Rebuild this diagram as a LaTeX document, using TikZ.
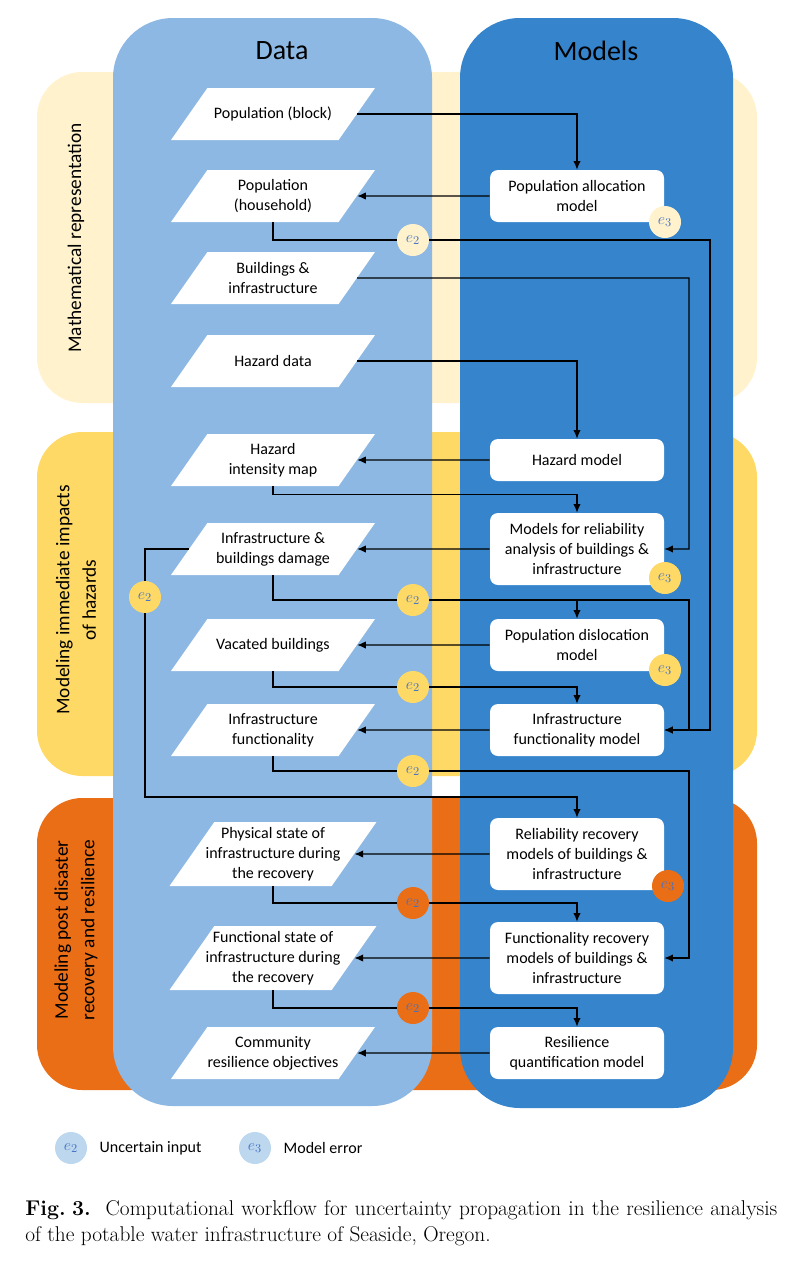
\documentclass[tikz,border=0pt]{standalone}
\usepackage{fontspec}
\setsansfont{Carlito}
\usetikzlibrary{shapes.geometric,arrows.meta}

\definecolor{bandmath}{RGB}{255,242,204}
\definecolor{bandimpact}{RGB}{255,217,102}
\definecolor{bandrecov}{RGB}{234,110,22}
\definecolor{datacol}{RGB}{141,184,227}
\definecolor{modelcol}{RGB}{53,132,204}
\definecolor{keyblue}{RGB}{189,215,238}
\definecolor{errtext}{RGB}{68,114,196}

\begin{document}
\begin{tikzpicture}
        [
            x = 0.75pt, y = -0.75pt,
            every node/.style = {font=\sffamily\fontsize{12}{15}\selectfont},
            datum/.style      = {shape=trapezium, trapezium left angle=55, trapezium right angle=125,
                                 trapezium stretches body, fill=white, minimum width=153pt,
                                 inner xsep=-12pt, inner ysep=0pt,
                                 execute at begin node={\begin{minipage}[c][#1][c]{112pt}\centering},
                                 execute at end node={\end{minipage}}},
            datum/.default    = 39pt,
            model/.style      = {shape=rectangle, rounded corners=6pt, fill=white, align=center,
                                 minimum width=130.5pt, minimum height=39pt},
            tallbox/.style    = {minimum height=54pt},
            flow/.style       = {draw, line width=0.9pt, -{Latex[length=6.5pt,width=5.5pt]}},
            err/.style        = {shape=circle, minimum size=24pt, inner sep=0pt, text=errtext,
                                 font=\fontsize{13}{13}\selectfont},
            bandlabel/.style  = {rotate=90, align=center, font=\sffamily\fontsize{14.5}{20}\selectfont},
            header/.style     = {font=\sffamily\fontsize{21}{25}\selectfont},
            caption/.style    = {font=\rmfamily\fontsize{16}{19.5}\selectfont, text width=564pt,
                                 align=justify, inner sep=0pt},
        ]
        \useasboundingbox (0,0) rectangle (797,1264);

        % bands and columns
        \fill [bandmath, rounded corners=34pt] (37,72) rectangle (757,403);
        \fill [bandimpact, rounded corners=34pt] (37,432) rectangle (757,776);
        \fill [bandrecov, rounded corners=34pt] (37,798) rectangle (757,1090);
        \fill [datacol, rounded corners=45pt] (113,18) rectangle (432,1106);
        \fill [modelcol, rounded corners=45pt] (460,18) rectangle (733,1108);

        \node [header] (datahead) at (282,51) {Data};
        \node [header] (modelhead) at (596,51) {Models};
        \node [bandlabel] (mathlbl) at (76,238) {Mathematical representation};
        \node [bandlabel] (implbl) at (76,600) {Modeling immediate impacts\\of hazards};
        \node [bandlabel] (reclbl) at (76,930) {Modeling post disaster\\recovery and resilience};

        % data
        \node [datum] (popb) at (273,114) {Population (block)};
        \node [datum] (poph) at (273,196) {Population\\(household)};
        \node [datum] (bldg) at (273,278) {Buildings \&\\infrastructure};
        \node [datum] (hzd) at (273,361) {Hazard data};
        \node [datum] (him) at (273,460) {Hazard\\intensity map};
        \node [datum] (dmg) at (273,549) {Infrastructure \&\\buildings damage};
        \node [datum] (vac) at (273,645) {Vacated buildings};
        \node [datum] (inf) at (273,730) {Infrastructure\\functionality};
        \node [datum=48pt] (phy) at (273,854) {Physical state of\\infrastructure during\\the recovery};
        \node [datum=48pt] (fun) at (273,958) {Functional state of\\infrastructure during\\the recovery};
        \node [datum] (com) at (273,1053) {Community\\resilience objectives};

        % models
        \node [model] (pam) at (577,196) {Population allocation\\model};
        \node [model, minimum height=31.5pt] (hzm) at (577,460) {Hazard model};
        \node [model, tallbox] (rel) at (577,549) {Models for reliability\\analysis of buildings \&\\infrastructure};
        \node [model] (pdm) at (577,645) {Population dislocation\\model};
        \node [model] (ifm) at (577,730) {Infrastructure\\functionality model};
        \node [model, tallbox] (rrm) at (577,854) {Reliability recovery\\models of buildings \&\\infrastructure};
        \node [model, tallbox] (frm) at (577,958) {Functionality recovery\\models of buildings \&\\infrastructure};
        \node [model] (rqm) at (577,1053) {Resilience\\quantification model};

        % junctions of the connectors
        \coordinate (busA) at (710,240);
        \coordinate (busB) at (689,278);
        \coordinate (loop) at (145,797);
        \coordinate (u1) at (413,240);
        \coordinate (u2) at (413,600);
        \coordinate (u3) at (145,597);
        \coordinate (u4) at (413,687);
        \coordinate (u5) at (413,771);
        \coordinate (u6) at (413,903);
        \coordinate (u7) at (413,1008);

        \draw [flow] (popb.0) -| (pam.north);
        \draw [flow] (pam.west) -- (poph.0);
        \draw [flow] (poph.south) |- (u1) -- (busA) |- (ifm.east);
        \draw [flow] (bldg.0) -- (busB) |- (rel.east);
        \draw [flow] (hzd.0) -| (hzm.north);
        \draw [flow] (hzm.west) -- (him.0);
        \draw [flow] (him.south) -- ++(0,8) -| (rel.north);
        \draw [flow] (rel.west) -- (dmg.0);
        \draw [flow] (dmg.south) |- (u2) -- (busB |- u2) |- (ifm.east);
        \draw [flow] (pdm.north |- u2) -- (pdm.north);
        \draw [flow] (dmg.180) -| (loop) -| (rrm.north);
        \draw [flow] (pdm.west) -- (vac.0);
        \draw [flow] (vac.south) |- (u4) -| (ifm.north);
        \draw [flow] (ifm.west) -- (inf.0);
        \draw [flow] (inf.south) |- (u5) -- (busB |- u5) |- (frm.east);
        \draw [flow] (rrm.west) -- (phy.0);
        \draw [flow] (phy.south) |- (u6) -| (frm.north);
        \draw [flow] (frm.west) -- (fun.0);
        \draw [flow] (fun.south) |- (u7) -| (rqm.north);
        \draw [flow] (rqm.west) -- (com.0);

        % uncertainties
        \node [err, fill=bandmath] (e2a) at (u1) {$e_2$};
        \node [err, fill=bandimpact] (e2b) at (u2) {$e_2$};
        \node [err, fill=bandimpact] (e2c) at (u3) {$e_2$};
        \node [err, fill=bandimpact] (e2d) at (u4) {$e_2$};
        \node [err, fill=bandimpact] (e2e) at (u5) {$e_2$};
        \node [err, fill=bandrecov] (e2f) at (u6) {$e_2$};
        \node [err, fill=bandrecov] (e2g) at (u7) {$e_2$};
        \node [err, fill=bandmath] (e3a) at (665,222) {$e_3$};
        \node [err, fill=bandimpact] (e3b) at (665,578) {$e_3$};
        \node [err, fill=bandimpact] (e3c) at (665,670) {$e_3$};
        \node [err, fill=bandrecov] (e3d) at (668,886) {$e_3$};

        % legend and caption
        \node [err, fill=keyblue] (key2) at (71,1148) {$e_2$};
        \node [anchor=west] (key2txt) at (95,1148) {Uncertain input};
        \node [err, fill=keyblue] (key3) at (255,1148) {$e_3$};
        \node [anchor=west] (key3txt) at (279,1148) {Model error};
        \node [caption, anchor=north west] (cap) at (25,1200)
            {\textbf{Fig.\hspace{0.3em}3.}\hspace{0.7em}Computational workflow for uncertainty propagation in the resilience analysis\linebreak
             of the potable water infrastructure of Seaside, Oregon.};
    \end{tikzpicture}
\end{document}
